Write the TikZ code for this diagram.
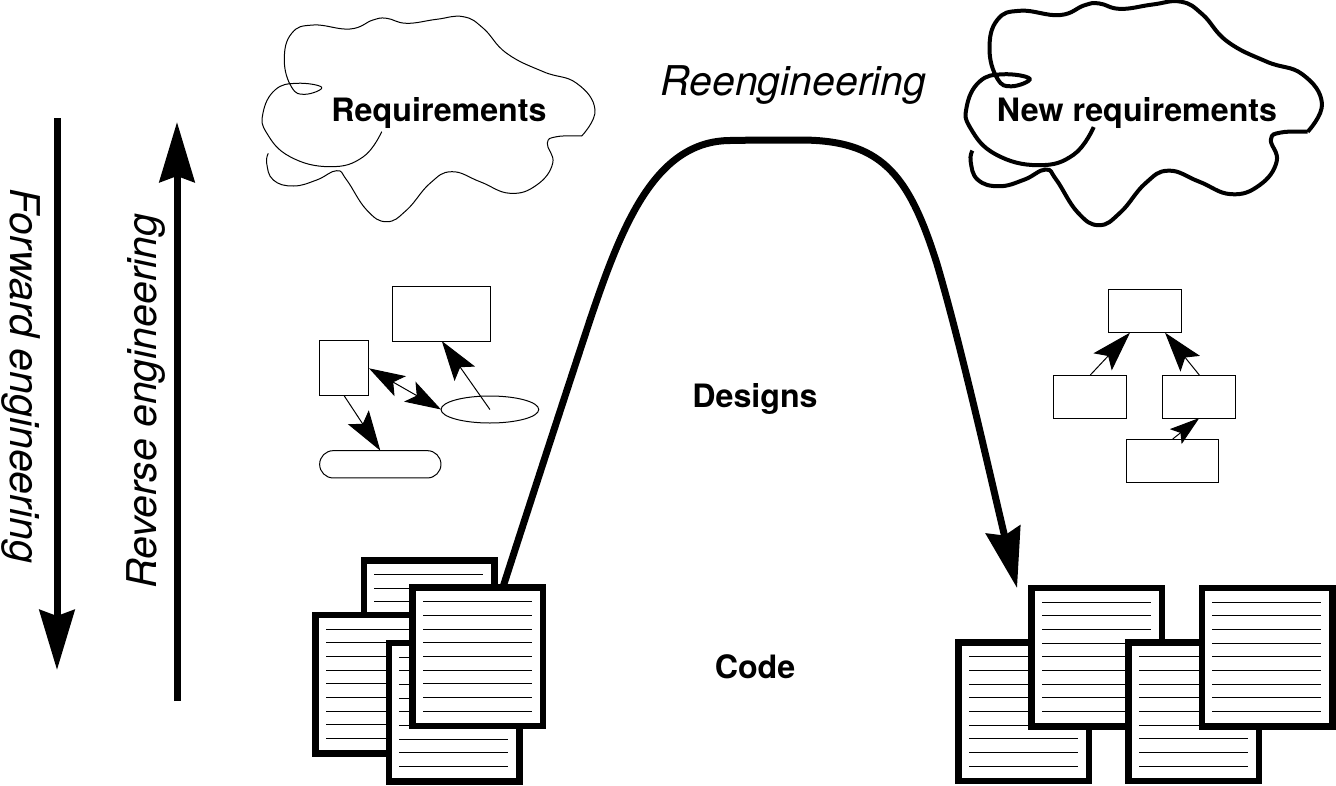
\documentclass[tikz,border=0pt]{standalone}
\usepackage{fontspec}
\setmainfont{TeX Gyre Heros}
\usepackage{tikz}
\usetikzlibrary{arrows.meta,shapes.geometric}

\newcommand{\cloudline}{plot[smooth,tension=0.75] coordinates {(381.7,131.7) (363,157) (330,166.7) (290,156.7) (266.7,133) (263,113) (275,90) (296.7,83.3) (321.7,87.3) (305,94.3) (291.7,87.3) (284.3,60) (291.7,33.3) (313.3,25) (350,29) (373,20) (386.7,18.3) (406.7,23.3) (436.7,19.3) (463.3,16.7) (483.3,28.3) (506.7,53.3) (543.3,71.7) (576.7,83.3) (595,110) (581.7,136)} plot[smooth,tension=0.75] coordinates {(581.7,136) (556.7,136.7) (547.3,143.3) (552.7,163.3) (536.7,185) (510,193.3) (480,181.7) (451.7,171.7) (430,183.3) (406.7,210) (386.7,221.7) (366.7,210) (346.7,180) (336.7,170.7) (316.7,180) (293.3,186) (273.3,180) (266.7,163.3) (268.3,153.3)}}

\begin{document}
\begin{tikzpicture}[x=1pt,y=-1pt,
  labelbold/.style={font=\fontsize{32.2}{36}\selectfont\bfseries,anchor=base,inner sep=0pt},
  labelslant/.style={font=\fontsize{41}{44}\selectfont\itshape,anchor=base,inner sep=0pt},
  thinbox/.style={draw,line width=1pt,inner sep=0pt,outer sep=0pt},
  docpage/.style={draw,fill=white,line width=6.7pt,minimum width=130.3pt,minimum height=138.3pt,anchor=north west,inner sep=0pt,outer sep=0pt},
  thinarrow/.style={line width=1pt,-{Stealth[length=40pt,width=25pt,inset=8pt]}},
  bigarrow/.style={line width=7pt,-{Stealth[length=60pt,width=35pt,inset=6pt]}}]
  \useasboundingbox (0,0) rectangle (1336,785);

  \draw[line width=1pt] \cloudline;
  \begin{scope}[shift={(966.7,1.7)},xscale=1.07,yscale=1.09,shift={(-263,-16.7)}]
    \draw[line width=4pt] \cloudline;
  \end{scope}

  \node[labelbold] (req) at (439,121.7) {Requirements};
  \node[labelbold] (newreq) at (1137,121.7) {New requirements};
  \node[labelbold] (designs) at (755,407) {Designs};
  \node[labelbold] (code) at (755,678) {Code};
  \node[labelslant] (reeng) at (793.5,95) {Reengineering};
  \node[labelslant,rotate=-90] (forw) at (10,376) {Forward engineering};
  \node[labelslant,rotate=90] (rev) at (156,401) {Reverse engineering};

  \coordinate (forwtop) at (57,118);
  \coordinate (forwend) at (57,670);
  \coordinate (revbot) at (177,701);
  \coordinate (revend) at (177,122);
  \draw[bigarrow] (forwtop) -- (forwend);
  \draw[bigarrow] (revbot) -- (revend);

  \node[thinbox,minimum width=98.3pt,minimum height=55pt] (classa) at (441.8,313.5) {};
  \node[thinbox,minimum width=49.3pt,minimum height=55.3pt] (classb) at (344.3,368.3) {};
  \node[thinbox,ellipse,minimum width=97.7pt,minimum height=27pt] (usec) at (489.9,409.5) {};
  \node[thinbox,rounded corners=13.6pt,minimum width=121.3pt,minimum height=27.3pt] (actor) at (380.3,464.3) {};
  \draw[thinarrow] (usec.center) -- (classa.south);
  \draw[line width=1pt,{Stealth[length=36pt,width=23pt,inset=8pt]}-{Stealth[length=36pt,width=23pt,inset=8pt]}] (classb.east) -- (usec.west);
  \draw[thinarrow] (classb.south) -- (actor.north);

  \node[thinbox,minimum width=73.3pt,minimum height=42.7pt] (modtop) at (1145.3,311.3) {};
  \node[thinbox,minimum width=73.3pt,minimum height=43pt] (modleft) at (1090.3,396.5) {};
  \node[thinbox,minimum width=73.3pt,minimum height=43pt] (modright) at (1199.3,396.5) {};
  \node[thinbox,minimum width=92pt,minimum height=43pt] (modlow) at (1172.7,460.5) {};
  \draw[thinarrow] (modleft.north) -- ([xshift=-15.3pt]modtop.south);
  \draw[thinarrow] (modright.north) -- ([xshift=19.7pt]modtop.south);
  \draw[line width=1pt,-{Stealth[length=30pt,width=19pt,inset=6pt]}] (modlow.north) -- (modright.south);

  \foreach \nm/\px/\py in {docA/360.7/557,docB/312.3/611.7,docC/385.7/639.7,docD/409.3/584.3,docE/955.3/639.3,docF/1028.3/584.7,docG/1125.3/639.3,docH/1198.7/584.7}{
    \node[docpage] (\nm) at (\px+3.35,\py+3.35) {};
    \foreach \i in {0,...,8}
      \draw[line width=1pt] ([xshift=10.4pt,yshift={-14pt-13.67pt*\i}]\nm.north west) -- ([xshift=-11pt,yshift={-14pt-13.67pt*\i}]\nm.north east);
  }

  \draw[bigarrow] ([xshift=25pt]docD.north) .. controls (532,497) and (561,408) .. (590,320) .. controls (622,225) and (655,141) .. (730,140.5) .. controls (755,140) and (775,140) .. (800,140) .. controls (880,140) and (908,172) .. (936.7,263) .. controls (961,345) and (990,475) .. ([xshift=-14.6pt]docF.north west);
\end{tikzpicture}
\end{document}
